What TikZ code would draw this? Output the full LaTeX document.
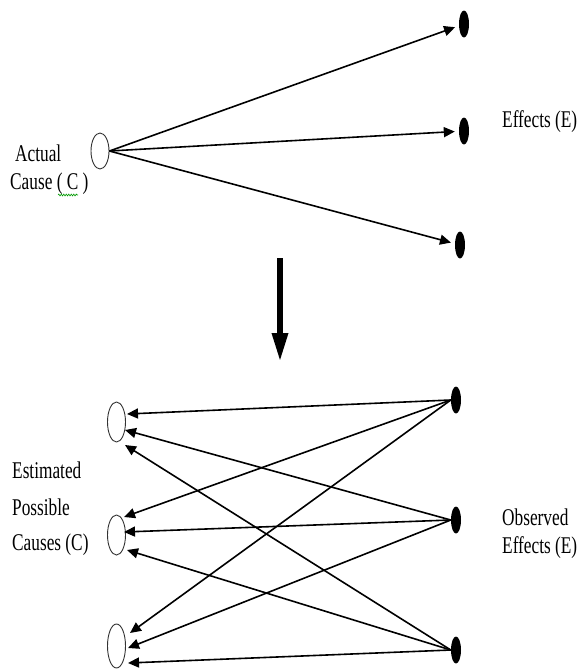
\documentclass[tikz,border=0pt]{standalone}
\usepackage{fontspec}
\setmainfont{Liberation Serif}
\usetikzlibrary{arrows.meta,shapes.geometric,decorations.pathmorphing}

% condensed serif lettering
\newcommand{\narrowtxt}[1]{\scalebox{0.72}[1]{#1}}

\begin{document}
\begin{tikzpicture}[x=1pt,y=-1pt,
  cause/.style={ellipse,draw=black!80,line width=0.9pt,fill=white,
    minimum width=18pt,minimum height=40pt,inner sep=0pt},
  effect/.style={ellipse,fill=black,minimum width=10pt,minimum height=27pt,inner sep=0pt},
  link/.style={line width=1.6pt,-{Triangle[length=11pt,width=10pt]}},
  txt/.style={font=\fontsize{24}{24}\selectfont,inner sep=0pt,anchor=base west}]

\useasboundingbox (0,0) rectangle (580,670);

% ---- actual cause and its effects ----
\node[cause,minimum height=36pt] (ac) at (100,151) {};
\node[effect] (e1) at (464,24) {};
\node[effect] (e2) at (464,131) {};
\node[effect] (e3) at (460,245) {};
\foreach \e in {e1,e2,e3}
  \draw[link,shorten >=4pt] (ac.east) -- (\e);

\node[txt] (t1) at (15,161) {\narrowtxt{Actual}};
\node[txt] (t2) at (10,189) {\narrowtxt{Cause ( C )}};
\coordinate (sqa) at (58,195);
\coordinate (sqb) at (78,195);
\draw[green!60!black,line width=0.6pt,decorate,
  decoration={snake,amplitude=0.9pt,segment length=2.5pt}] (sqa) -- (sqb);
\node[txt] (t3) at (502,127) {\narrowtxt{Effects (E)}};

% ---- inference step ----
\coordinate (dtop) at (280,258);
\coordinate (dbot) at (280,362);
\draw[line width=6pt,-{Triangle[length=29pt,width=15pt]}] (dtop) -- (dbot);

% ---- estimated causes and observed effects ----
\node[cause] (h1) at (116.5,422) {};
\node[cause] (h2) at (116.5,535) {};
\node[cause,minimum height=44pt] (h3) at (116.5,646) {};
\node[effect] (f1) at (456,400) {};
\node[effect] (f2) at (456,520) {};
\node[effect] (f3) at (456,650) {};

% docking points on the right of each possible cause
\coordinate (h1a) at (127,414);
\coordinate (h1b) at (125,430);
\coordinate (h1c) at (125,445);
\coordinate (h2a) at (124,517);
\coordinate (h2b) at (124,532);
\coordinate (h2c) at (127,550);
\coordinate (h3a) at (130,633);
\coordinate (h3b) at (128,648);
\coordinate (h3c) at (128,663);

\foreach \j in {1,2,3}
  \foreach \i/\k in {1/a,2/b,3/c}
    \draw[link] (f\i.west) -- (h\j\k);

\node[txt] (t4) at (12,478) {\narrowtxt{Estimated}};
\node[txt] (t5) at (12,515) {\narrowtxt{Possible}};
\node[txt] (t6) at (12,550) {\narrowtxt{Causes (C)}};
\node[txt] (t7) at (502,525) {\narrowtxt{Observed}};
\node[txt] (t8) at (502,553) {\narrowtxt{Effects (E)}};
\end{tikzpicture}
\end{document}
